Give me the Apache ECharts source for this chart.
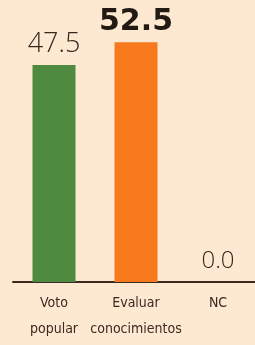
<!DOCTYPE html>
<html>
<head>
<meta charset="UTF-8">
<script src="https://cdn.jsdelivr.net/npm/echarts@6/dist/echarts.min.js"></script>
<style>
html,body{margin:0;padding:0;background:#fde8d1;}
#main{width:255px;height:345px;}
</style>
</head>
<body>
<div id="main"></div>
<script>
var categories = ['Voto\npopular', 'Evaluar\nconocimientos', 'NC'];
var values = [47.5, 52.5, 0.0];
var colors = ['#4e8a3f', '#f7791c', '#f7791c'];

var myChart = echarts.init(document.getElementById('main'));
var data = [];
for (var i = 0; i < values.length; i++) {
	var item = { value: values[i], itemStyle: { color: colors[i] } };
	if (i === 1) {
		item.label = { fontSize: 30, fontWeight: 900, color: '#231a14', fontFamily: 'DejaVu Sans', distance: 5 };
	}
	if (i === 2) {
		item.label = { fontSize: 24, distance: 9 };
	}
	data.push(item);
}
var option = {
	backgroundColor: '#fde8d1',
	animation: false,
	grid: { left: 13, right: -4, top: 8, bottom: 63, outerBoundsMode: 'none' },
	xAxis: {
		type: 'category',
		data: categories,
		axisLine: { lineStyle: { color: '#3b2a1e', width: 2 } },
		axisTick: { show: false },
		axisLabel: {
			color: '#3b2a1e',
			fontFamily: '"DejaVu Sans Condensed", "DejaVu Sans", sans-serif',
			fontSize: 14,
			lineHeight: 26,
			margin: 8,
			interval: 0
		}
	},
	yAxis: {
		type: 'value',
		min: 0,
		max: 60,
		show: false
	},
	series: [{
		type: 'bar',
		barWidth: 43,
		data: data,
		label: {
			show: true,
			position: 'top',
			distance: 7,
			fontSize: 27,
			fontWeight: 300,
			fontFamily: 'Open Sans',
			color: '#33291f',
			formatter: function (p) { return p.value.toFixed(1); }
		}
	}]
};
myChart.setOption(option);
</script>
</body>
</html>
